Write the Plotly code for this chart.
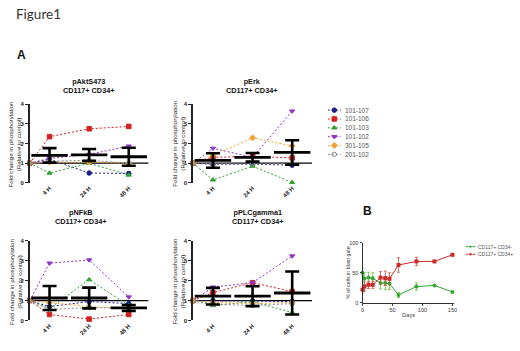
import plotly.graph_objects as go

W, H = 520, 351


def fx(p):
    return p / W


def fy(p):
    return 1 - p / H


# ---------------- data ----------------
patients = ["101-107", "101-106", "101-103", "101-102", "301-105", "201-102"]
time_labels = ["4 H", "24 H", "48 H"]
time_pos = [1, 3, 5]
start_pos = 0

# rows follow `patients`; columns: baseline, 4 H, 24 H, 48 H
pakt_values = [
    [1, 1.20, 0.50, 0.48],
    [1, 2.35, 2.75, 2.87],
    [1, 0.50, 1.00, 0.40],
    [1, 1.25, 1.45, 1.87],
    [1, 1.05, 1.05, 1.00],
    [1, 1.10, 1.15, 1.00],
]
pakt_mean = [1.40, 1.42, 1.33]
pakt_sd = [0.37, 0.30, 0.46]

perk_values = [
    [1, 0.95, 0.95, 0.90],
    [1, 1.30, 1.35, 1.27],
    [1, 0.15, 0.85, 0.02],
    [1, 1.76, 1.30, 3.65],
    [1, 1.40, 2.29, 1.88],
    [1, 1.00, 0.95, 1.00],
]
perk_mean = [1.14, 1.30, 1.55]
perk_sd = [0.37, 0.22, 0.62]

pnfkb_values = [
    [1, 0.70, 0.95, 0.85],
    [1, 0.30, 0.07, 0.30],
    [1, 0.60, 2.05, 0.75],
    [1, 2.88, 3.04, 1.18],
    [1, 0.90, 0.70, 0.60],
    [1, 0.55, 0.65, 0.62],
]
pnfkb_mean = [1.13, 1.13, 0.63]
pnfkb_sd = [0.60, 0.52, 0.15]

pplc_values = [
    [1, 1.00, 0.98, 0.95],
    [1, 1.40, 1.90, 1.45],
    [1, 0.75, 0.95, 0.40],
    [1, 1.68, 1.90, 3.24],
    [1, 0.90, 0.85, 0.90],
    [1, 0.82, 0.75, 0.85],
]
pplc_mean = [1.22, 1.22, 1.38]
pplc_sd = [0.42, 0.50, 1.08]

groups_b = ["CD117+ CD34-", "CD117+ CD34+"]
days = [0, 3, 10, 17, 30, 38, 45, 60, 90, 120, 150]
cd34neg = [50, 40, 42, 41, 33, 33, 32, 13, 27, 29, 18]
cd34neg_err = [8, 10, 9, 9, 10, 11, 10, 4, 6, 1, 1]
cd34pos = [22, 27, 30, 30, 42, 41, 40, 63, 69, 69, 80]
cd34pos_err = [6, 8, 6, 6, 10, 12, 10, 12, 7, 1, 1]

# ---------------- style ----------------
colors = ["#1c1c8a", "#d42020", "#2ea02e", "#8f33c8", "#f0a030", "#8a8a8a"]
symbols = ["circle", "square", "triangle-up", "triangle-down", "diamond", "circle-open"]
colors_b = ["#33a833", "#cc2a2a"]
err_colors_b = ["#6cbf3a", "#c0503a"]
symbols_b = ["circle", "square"]
FONT = "Liberation Sans"

fig = go.Figure()

panels = [
    ("pAktS473", pakt_values, pakt_mean, pakt_sd, "x", "y", (28, 148, 103, 183)),
    ("pErk", perk_values, perk_mean, perk_sd, "x2", "y2", (193, 313, 103, 183)),
    ("pNFkB", pnfkb_values, pnfkb_mean, pnfkb_sd, "x3", "y3", (28, 148, 242, 323)),
    ("pPLCgamma1", pplc_values, pplc_mean, pplc_sd, "x4", "y4", (193, 313, 242, 323)),
]

layout_axes = {}
annotations = []
shapes = []

for pi, (title, vals, mean, sd, xa, ya, box) in enumerate(panels):
    x0, x1, ytop, ybot = box
    for j, name in enumerate(patients):
        fig.add_trace(go.Scatter(
            x=[start_pos] + time_pos, y=vals[j], mode="lines+markers", name=name,
            line=dict(color=colors[j], width=1, dash="2px,2px"),
            marker=dict(symbol=symbols[j], size=4.5, color=colors[j],
                        line=dict(color=colors[j], width=1)),
            xaxis=xa, yaxis=ya, showlegend=False, cliponaxis=False,
        ))
    fig.add_trace(go.Scatter(
        x=time_pos, y=mean, mode="markers", showlegend=False,
        marker=dict(symbol="line-ew", size=26, color="black",
                    line=dict(width=2.8, color="black")),
        error_y=dict(type="data", array=sd, color="black", thickness=2.6, width=7),
        xaxis=xa, yaxis=ya, cliponaxis=False,
    ))
    shapes.append(dict(type="line", xref=xa, yref=ya, x0=0, x1=6, y0=1, y1=1,
                       line=dict(color="black", width=1.3), layer="below"))
    sfx = xa[1:]
    layout_axes["xaxis" + sfx] = dict(
        domain=[fx(x0), fx(x1)], range=[0, 6], anchor=ya,
        showline=False, showgrid=False, zeroline=False, ticks="",
        tickvals=time_pos, ticktext=time_labels, tickangle=-45,
        tickfont=dict(size=6, family=FONT, color="#222", weight="bold"),
    )
    layout_axes["yaxis" + sfx] = dict(
        domain=[fy(ybot), fy(ytop)], range=[0, 4], anchor=xa,
        showline=True, linecolor="#222", linewidth=1.5, showgrid=False, zeroline=False,
        ticks="outside", ticklen=3, tickwidth=1.3, tickcolor="#222",
        tickvals=[0, 1, 2, 3, 4],
        tickfont=dict(size=6, family=FONT, color="#222", weight="bold"),
    )

# panel B
for k, (vals, errs) in enumerate([(cd34neg, cd34neg_err), (cd34pos, cd34pos_err)]):
    fig.add_trace(go.Scatter(
        x=days, y=vals, mode="lines+markers", name=groups_b[k],
        line=dict(color=colors_b[k], width=1),
        marker=dict(color=colors_b[k], symbol=symbols_b[k], size=4),
        error_y=dict(type="data", array=errs, color=err_colors_b[k], thickness=0.8, width=1.5),
        xaxis="x5", yaxis="y5", showlegend=False, cliponaxis=False,
    ))
layout_axes["xaxis5"] = dict(
    domain=[fx(364), fx(456)], range=[0, 152], anchor="y5",
    showline=True, linecolor="#333", linewidth=1, showgrid=False, zeroline=False,
    ticks="outside", ticklen=2, tickwidth=1, tickvals=[0, 50, 100, 150],
    tickfont=dict(size=5.5, family=FONT, color="#333"),
)
layout_axes["yaxis5"] = dict(
    domain=[fy(305), fy(244)], range=[0, 100], anchor="x5",
    showline=True, linecolor="#333", linewidth=1, showgrid=False, zeroline=False,
    ticks="outside", ticklen=2, tickwidth=1, tickvals=[0, 50, 100],
    tickfont=dict(size=5.5, family=FONT, color="#333"),
)

# ---------------- compact legends (keys drawn on their own small axes) ----------------
hidden = dict(showline=False, showgrid=False, zeroline=False, showticklabels=False, ticks="")
layout_axes["xaxis6"] = dict(domain=[fx(329), fx(381)], range=[0, 8], anchor="y6", **hidden)
layout_axes["yaxis6"] = dict(domain=[fy(158.5), fy(104.5)], range=[len(patients) - 0.5, -0.5],
                             anchor="x6", **hidden)
for j, name in enumerate(patients):
    fig.add_trace(go.Scatter(
        x=[0, 1, 2], y=[j] * 3, mode="lines", showlegend=False, hoverinfo="skip",
        line=dict(color=colors[j], width=1, dash="2px,2px"), xaxis="x6", yaxis="y6",
    ))
    fig.add_trace(go.Scatter(
        x=[1], y=[j], mode="markers", showlegend=False, hoverinfo="skip",
        marker=dict(symbol=symbols[j], size=4.5, color=colors[j], line=dict(color=colors[j], width=1)),
        xaxis="x6", yaxis="y6", cliponaxis=False,
    ))
    annotations.append(dict(text=name, x=2.4, y=j, xref="x6", yref="y6", showarrow=False,
                            xanchor="left", yanchor="middle",
                            font=dict(size=6.5, family=FONT, color="#555")))

layout_axes["xaxis7"] = dict(domain=[fx(468), fx(518)], range=[0, 10], anchor="y7", **hidden)
layout_axes["yaxis7"] = dict(domain=[fy(259.5), fy(244)], range=[len(groups_b) - 0.5, -0.5],
                             anchor="x7", **hidden)
for k, name in enumerate(groups_b):
    fig.add_trace(go.Scatter(
        x=[0, 1, 2], y=[k] * 3, mode="lines+markers", showlegend=False, hoverinfo="skip",
        line=dict(color=colors_b[k], width=1),
        marker=dict(color=colors_b[k], symbol=symbols_b[k], size=[0, 3.5, 0]),
        xaxis="x7", yaxis="y7", cliponaxis=False,
    ))
    annotations.append(dict(text=name, x=2.2, y=k, xref="x7", yref="y7", showarrow=False,
                            xanchor="left", yanchor="middle",
                            font=dict(size=5, family=FONT, color="#555")))

# ---------------- text ----------------
def ann(text, x, y, size, bold=False, angle=0, color="#111", family=FONT, xanchor="center", yanchor="middle"):
    annotations.append(dict(
        text=text, x=fx(x), y=fy(y), xref="paper", yref="paper", showarrow=False,
        textangle=angle, xanchor=xanchor, yanchor=yanchor,
        font=dict(size=size, family=family, color=color, weight="bold" if bold else "normal"),
    ))


ann("Figure1", 12, 11, 13.5, family="Lato", color="#333", xanchor="left")
ann("A", 13, 53, 12, bold=True, xanchor="left")
ann("B", 362, 212, 12, bold=True, xanchor="left")

title_pos = [(88, 84.5), (252, 84.5), (80, 217.5), (258, 217.5)]
for (title, *_), (tx, ty) in zip(panels, title_pos):
    ann(title + "<br>CD117+ CD34+", tx, ty, 7.3, bold=True)

ytitle = "Fold change in phosphorylation<br>(Relative to control)"
for (tx, ty) in [(13, 143), (178, 143), (13, 283), (178, 283)]:
    ann(ytitle, tx, ty, 6.2, angle=-90, color="#222")

ann("% of cells in blast gate", 350, 274, 5.3, angle=-90, color="#333")
ann("Days", 410, 317, 5.8, color="#444")

fig.update_layout(
    width=W, height=H, margin=dict(l=0, r=0, t=0, b=0),
    paper_bgcolor="white", plot_bgcolor="white",
    annotations=annotations, shapes=shapes, showlegend=False,
    **layout_axes,
)

fig.write_html(
    "out.html",
    config={"displayModeBar": False},
    post_script="document.body.style.margin='0';document.body.style.overflow='hidden';",
)
